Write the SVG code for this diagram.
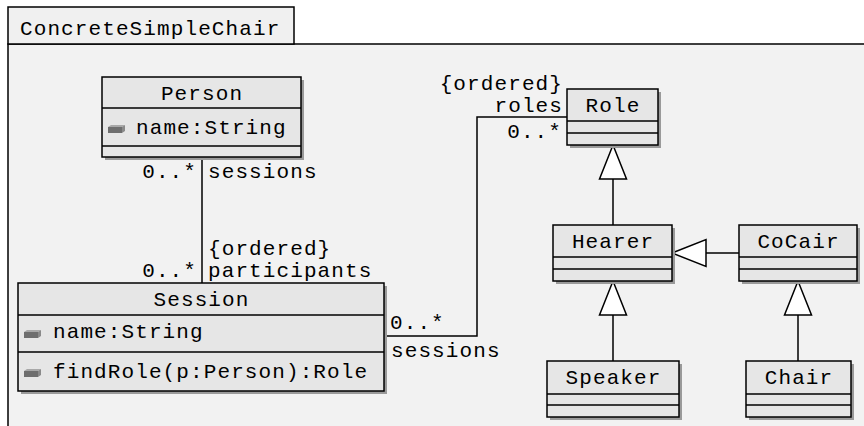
<svg xmlns="http://www.w3.org/2000/svg" width="864" height="426" viewBox="0 0 864 426">
<style>
text{font-family:"Liberation Mono","DejaVu Sans Mono",monospace;font-size:21px;letter-spacing:1.1px;fill:#000}
.box{fill:#e6e6e6;stroke:#000;stroke-width:1.5}
.sh{fill:#9a9a9a}
.ln{stroke:#000;stroke-width:1.5;fill:none}
.tri{fill:#fff;stroke:#000;stroke-width:1.5}
.c{text-anchor:middle}
.r{text-anchor:end}
</style>
<defs>
<g id="icon"><rect x="0" y="2" width="14" height="6" fill="#6e6e6e"/><path d="M0 2 L3 0 L17 0 L14 2 Z" fill="#a8a8a8"/><path d="M14 2 L17 0 L17 6 L14 8 Z" fill="#8a8a8a"/></g>
</defs>
<rect width="864" height="426" fill="#fff"/>
<g id="frame">
<rect x="8" y="44" width="870" height="400" fill="#f2f2f2" stroke="#000" stroke-width="1.5"/>
<rect x="8" y="7" width="286" height="37" fill="#f0f0f0" stroke="#000" stroke-width="1.5"/>
<text x="20" y="35">ConcreteSimpleChair</text>
</g>
<g id="connectors">
<path class="ln" d="M202 157 V283"/>
<path class="ln" d="M384 336 H477 V117 H567"/>
<path class="ln" d="M613 179 V225"/>
<path class="tri" d="M613 145 L626.5 179 L599.5 179 Z"/>
<path class="ln" d="M706 253 H739"/>
<path class="tri" d="M672 253 L706 239.5 L706 266.5 Z"/>
<path class="ln" d="M613 315 V361"/>
<path class="tri" d="M613 281 L626.5 315 L599.5 315 Z"/>
<path class="ln" d="M798 315 V361"/>
<path class="tri" d="M798 281 L811.5 315 L784.5 315 Z"/>
<text class="r" x="197" y="178">0..*</text>
<text x="208" y="178">sessions</text>
<text x="208" y="255">{ordered}</text>
<text x="208" y="277">participants</text>
<text class="r" x="197" y="277">0..*</text>
<text x="390" y="329">0..*</text>
<text x="391" y="357">sessions</text>
<text class="r" x="563" y="90">{ordered}</text>
<text class="r" x="563" y="112">roles</text>
<text class="r" x="562" y="138">0..*</text>
</g>
<g id="Person">
<rect class="sh" x="105" y="80" width="199" height="80"/>
<rect class="box" x="102" y="77" width="199" height="80"/>
<path class="ln" d="M102 108 H301 M102 146 H301"/>
<text class="c" x="202" y="100">Person</text>
<use href="#icon" x="108" y="125"/>
<text x="136" y="134">name:String</text>
</g>
<g id="Session">
<rect class="sh" x="21" y="286" width="366" height="108"/>
<rect class="box" x="18" y="283" width="366" height="108"/>
<path class="ln" d="M18 315 H384 M18 352 H384"/>
<text class="c" x="201.5" y="306">Session</text>
<use href="#icon" x="24" y="330"/>
<text x="53" y="338">name:String</text>
<use href="#icon" x="24" y="369"/>
<text x="53" y="378">findRole(p:Person):Role</text>
</g>
<g id="Role">
<rect class="sh" x="570" y="92" width="91" height="56"/>
<rect class="box" x="567" y="89" width="91" height="56"/>
<path class="ln" d="M567 121 H658 M567 133 H658"/>
<text class="c" x="613" y="112">Role</text>
</g>
<g id="Hearer">
<rect class="sh" x="556" y="228" width="119" height="56"/>
<rect class="box" x="553" y="225" width="119" height="56"/>
<path class="ln" d="M553 257 H672 M553 269 H672"/>
<text class="c" x="613" y="248">Hearer</text>
</g>
<g id="CoCair">
<rect class="sh" x="742" y="228" width="118" height="56"/>
<rect class="box" x="739" y="225" width="118" height="56"/>
<path class="ln" d="M739 257 H857 M739 269 H857"/>
<text class="c" x="798.5" y="248">CoCair</text>
</g>
<g id="Speaker">
<rect class="sh" x="550" y="364" width="132" height="56"/>
<rect class="box" x="547" y="361" width="132" height="56"/>
<path class="ln" d="M547 394 H679 M547 405 H679"/>
<text class="c" x="613.5" y="384">Speaker</text>
</g>
<g id="Chair">
<rect class="sh" x="749" y="364" width="105" height="56"/>
<rect class="box" x="746" y="361" width="105" height="56"/>
<path class="ln" d="M746 394 H851 M746 405 H851"/>
<text class="c" x="799" y="384">Chair</text>
</g>
</svg>
